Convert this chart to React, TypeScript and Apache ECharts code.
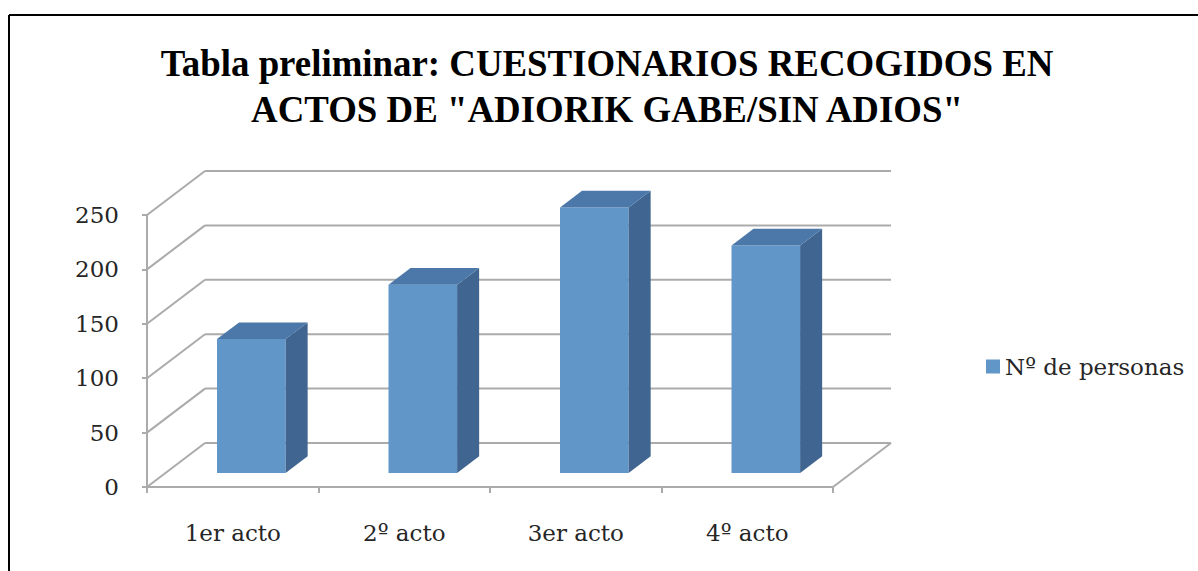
import React, { useEffect, useRef } from "react";
import * as echarts from "echarts";

const categories = ["1er acto", "2º acto", "3er acto", "4º acto"];
const values = [123, 173, 244, 209];
const yTicks = [0, 50, 100, 150, 200, 250];
const seriesName = "Nº de personas";
const titleLines = ["Tabla preliminar: CUESTIONARIOS RECOGIDOS EN", 'ACTOS DE "ADIORIK GABE/SIN ADIOS"'];

const DX = 58;
const DY = -44;
const GRID_COLOR = "#ababab";
const FRONT = "#6196c9";
const SIDE = "#3f6590";
const TOP = "#4b78a8";
const FONT = "DejaVu Serif";

export default function App() {
  const ref = useRef<HTMLDivElement>(null);
  useEffect(() => {
    if (!ref.current) return;
    const chart = echarts.init(ref.current, null, { renderer: "svg" });
    const option: any = {
      animation: false,
      backgroundColor: "#ffffff",
      grid: { left: 147, right: 365, top: 215, bottom: 84, containLabel: false },
      legend: {
        data: [seriesName],
        left: 981,
        top: 350,
        icon: "rect",
        itemWidth: 14,
        itemHeight: 14,
        textStyle: { fontFamily: FONT, fontSize: 23, color: "#262626" },
      },
      xAxis: {
        type: "category",
        data: categories,
        axisLine: { show: true, lineStyle: { color: GRID_COLOR, width: 2 } },
        axisTick: { show: true, length: 6, lineStyle: { color: GRID_COLOR, width: 2 } },
        axisLabel: { fontFamily: FONT, fontSize: 23, color: "#262626", margin: 34 },
        splitLine: { show: false },
      },
      yAxis: {
        type: "value",
        min: 0,
        max: 250,
        interval: 50,
        axisLine: { show: true, lineStyle: { color: GRID_COLOR, width: 2 } },
        axisTick: { show: true, length: 5, lineStyle: { color: GRID_COLOR, width: 2 } },
        axisLabel: { fontFamily: FONT, fontSize: 23, color: "#262626", margin: 28 },
        splitLine: { show: false },
      },
      graphic: [
        {
          type: "text",
          x: 607,
          y: 40,
          scaleX: 0.97,
          style: {
            text: titleLines.join("\n"),
            font: "bold 38px 'Liberation Serif'",
            fill: "#000000",
            textAlign: "center",
            textVerticalAlign: "top",
            lineHeight: 46,
          },
        },
        { type: "line", shape: { x1: 9, y1: 15, x2: 1198, y2: 15 }, style: { stroke: "#000", lineWidth: 2 } },
        { type: "line", shape: { x1: 9, y1: 15, x2: 9, y2: 571 }, style: { stroke: "#000", lineWidth: 2 } },
      ],
      series: [
        {
          type: "custom",
          name: "walls",
          clip: false,
          silent: true,
          z: 1,
          data: [[0, 0]],
          encode: { x: 0, y: 1 },
          renderItem: (params: any, api: any) => {
            const band = api.size([1, 0])[0];
            const n = categories.length;
            const children: any[] = [];
            const st = { stroke: GRID_COLOR, lineWidth: 2, fill: "none" };
            yTicks.forEach((v) => {
              const pL = api.coord([0, v]);
              const pR = api.coord([n - 1, v]);
              const xl = pL[0] - band / 2;
              const xr = pR[0] + band / 2;
              const y = pL[1];
              children.push({ type: "line", shape: { x1: xl, y1: y, x2: xl + DX, y2: y + DY }, style: st });
              children.push({ type: "line", shape: { x1: xl + DX, y1: y + DY, x2: xr + DX, y2: y + DY }, style: st });
              if (v === 0) {
                children.push({ type: "line", shape: { x1: xr, y1: y, x2: xr + DX, y2: y + DY }, style: st });
              }
            });
            return { type: "group", children };
          },
        },
        {
          type: "custom",
          name: seriesName,
          clip: false,
          z: 2,
          itemStyle: { color: FRONT },
          data: values.map((v, i) => [i, v]),
          encode: { x: 0, y: 1 },
          renderItem: (params: any, api: any) => {
            const idx = api.value(0);
            const val = api.value(1);
            const b = api.coord([idx, 0]);
            const t = api.coord([idx, val]);
            const band = api.size([1, 0])[0];
            const w = band * 0.4;
            const f0 = 0.32;
            const f1 = 0.7;
            const x0 = b[0] - w / 2 + DX * f0;
            const x1 = x0 + w;
            const yb = b[1] + DY * f0;
            const yt = t[1] + DY * f0;
            const dx = DX * (f1 - f0);
            const dy = DY * (f1 - f0);
            return {
              type: "group",
              children: [
                { type: "rect", shape: { x: x0, y: yt, width: w, height: yb - yt }, style: { fill: FRONT } },
                {
                  type: "polygon",
                  shape: { points: [[x1, yb], [x1, yt], [x1 + dx, yt + dy], [x1 + dx, yb + dy]] },
                  style: { fill: SIDE },
                },
                {
                  type: "polygon",
                  shape: { points: [[x0, yt], [x1, yt], [x1 + dx, yt + dy], [x0 + dx, yt + dy]] },
                  style: { fill: TOP },
                },
              ],
            };
          },
        },
      ],
    };
    chart.setOption(option);
    return () => chart.dispose();
  }, []);
  return (
    <div
      ref={ref}
      style={{ position: "fixed", left: 0, top: 0, width: 1198, height: 571, background: "#fff" }}
    />
  );
}
